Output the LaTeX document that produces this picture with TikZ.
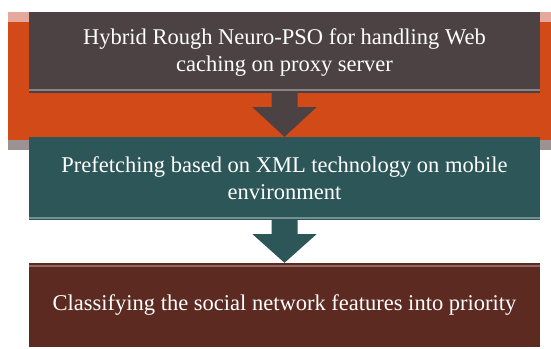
\documentclass[tikz,border=0pt]{standalone}
\usepackage{fontspec}
\setmainfont{Liberation Serif}
\usetikzlibrary{calc}
\definecolor{bandorange}{HTML}{D24A18}
\definecolor{bandpink}{HTML}{E6A79C}
\definecolor{bandgray}{HTML}{9C9293}
\definecolor{boxgray}{HTML}{4C4243}
\definecolor{boxteal}{HTML}{2D5658}
\definecolor{boxbrown}{HTML}{5C2A20}

\begin{document}
\begin{tikzpicture}[x=1pt,y=-1pt,
    stagebox/.style={minimum width=511pt,inner sep=0pt,text=white,align=center,
        font=\fontsize{22.5}{27}\selectfont}]
            \useasboundingbox (0,0) rectangle (551,348);
            \fill[white] (0,0) rectangle (551,348);
            % orange band behind the first two stages
            \fill[bandpink] (8,12) rectangle (551,22);
            \fill[bandorange] (8,22) rectangle (551,140);
            \fill[bandgray] (8,140) rectangle (551,150);

            \node[stagebox,minimum height=81pt,fill=boxgray] (hybrid) at (284.5,52.5)
                {Hybrid Rough Neuro-PSO for handling Web\\caching on proxy server};
            \node[stagebox,minimum height=83pt,fill=boxteal] (prefetch) at (284.5,178.5)
                {Prefetching based on XML technology on mobile\\environment};
            \node[stagebox,minimum height=84pt,fill=boxbrown] (classify) at (284.5,305)
                {Classifying the social network features into priority};

            % light bevel edges
            \draw[white,opacity=0.35,line width=1.5pt] ($(hybrid.south west)+(0,-3)$)--($(hybrid.south east)+(0,-3)$);
            \draw[white,opacity=0.35,line width=1.5pt] ($(prefetch.south west)+(0,-2)$)--($(prefetch.south east)+(0,-2)$);
            \draw[white,opacity=0.3,line width=1.5pt] ($(classify.north west)+(0,3)$)--($(classify.north east)+(0,3)$);

            \foreach \a/\b/\c in {hybrid/prefetch/boxgray,prefetch/classify/boxteal}{
                \fill[\c] ($(\a.south)+(-13,0)$)--($(\a.south)+(13,0)$)--($(\a.south)+(13,14)$)--($(\a.south)+(32,14)$)
                    --(\b.north)--($(\a.south)+(-32,14)$)--($(\a.south)+(-13,14)$)--cycle;
            }
        \end{tikzpicture}
\end{document}
